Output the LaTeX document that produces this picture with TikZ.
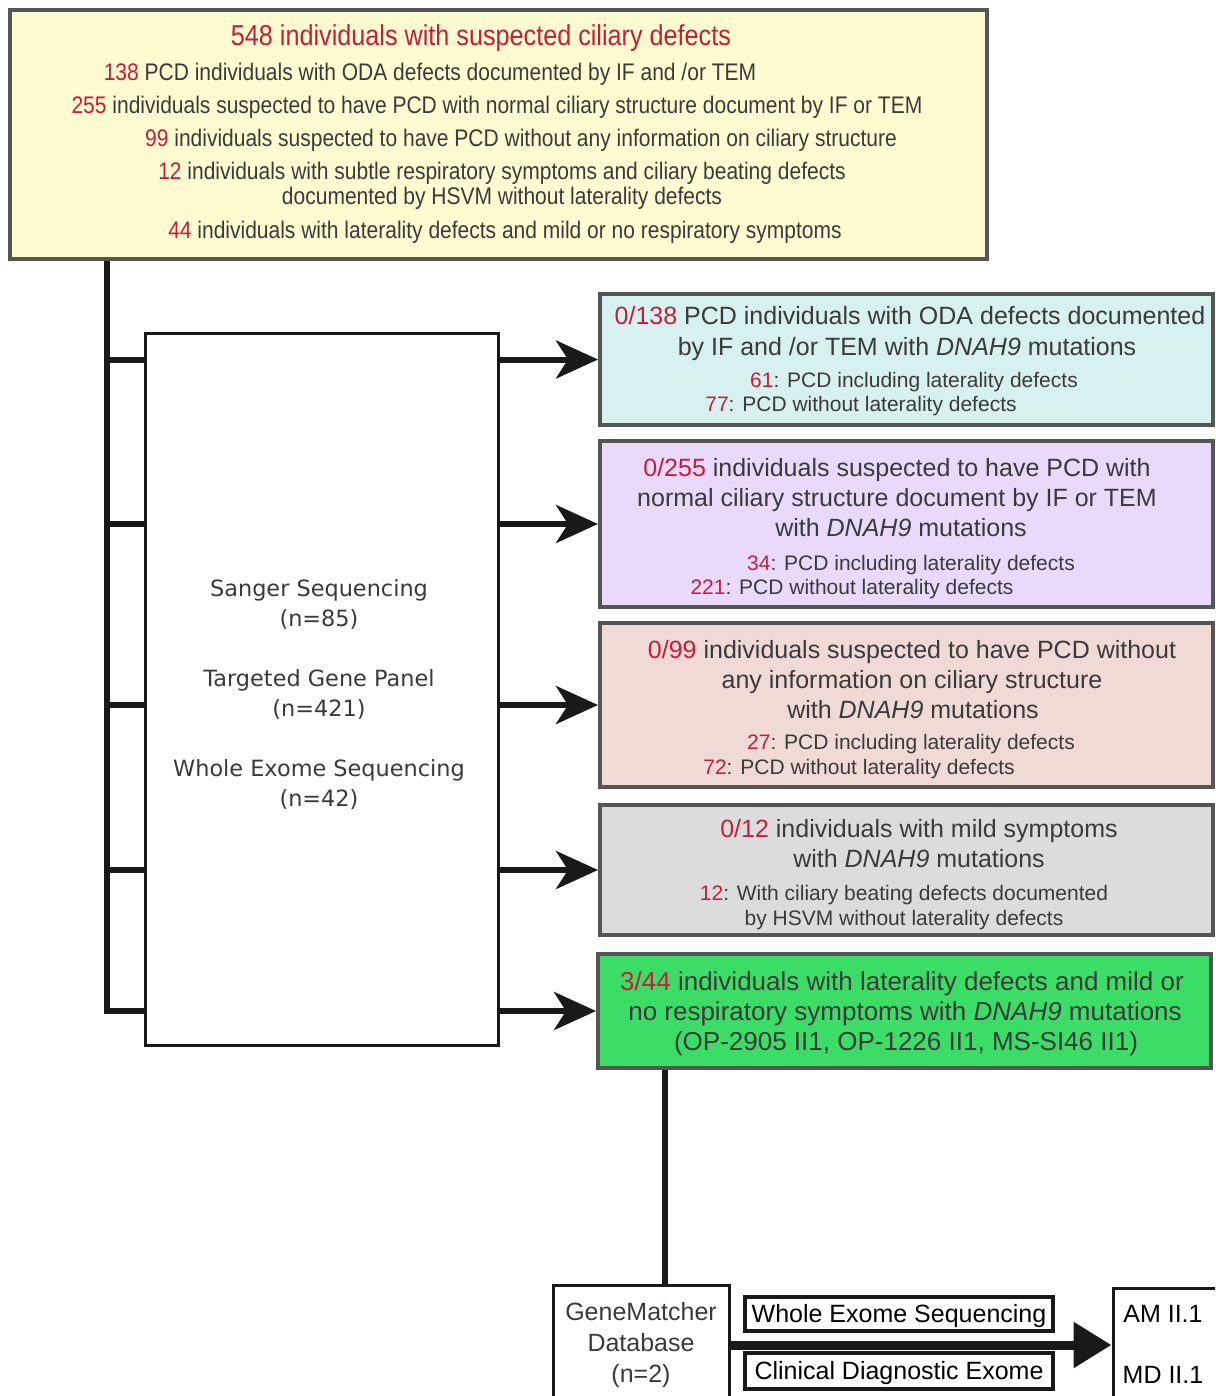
\documentclass[tikz,border=0pt]{standalone}
\usepackage{fontspec}
\setmainfont{Liberation Sans}
\newfontfamily\narrowfont[FakeStretch=0.875]{Liberation Sans}
\newfontfamily\widefont{DejaVu Sans}
\usetikzlibrary{arrows.meta,fit}

\definecolor{topfill}{HTML}{FFFBD1}
\definecolor{cyanfill}{HTML}{D6F1EF}
\definecolor{purplefill}{HTML}{E9D9FB}
\definecolor{pinkfill}{HTML}{EFDAD6}
\definecolor{greyfill}{HTML}{DCDCDC}
\definecolor{greenfill}{HTML}{3BDD66}
\definecolor{framegray}{HTML}{555555}
\definecolor{textgray}{HTML}{3A3A3A}
\definecolor{numred}{HTML}{C41E3A}
\newcommand{\redn}[1]{\textcolor{numred}{#1}}

\tikzset{
	panel/.style={draw=framegray, line width=2pt, inner sep=0pt},
	blackbox/.style={draw=black!90, line width=1.5pt, inner sep=0pt, fill=white},
	block/.style={inner sep=0pt, text=textgray, align=center},
	txt/.style={inner sep=0pt, text=textgray, text height=0.9em, text depth=0.1em},
	toptxt/.style={txt, font=\narrowfont\fontsize{12}{14}\selectfont},
	titletxt/.style={txt, text=numred, font=\narrowfont\fontsize{14.4}{17}\selectfont},
	bigtxt/.style={txt, font=\fontsize{12.5}{15}\selectfont},
	greentxt/.style={txt, font=\fontsize{13}{15}\selectfont},
	smalltxt/.style={txt, font=\fontsize{10.5}{12}\selectfont},
	trunk/.style={line width=3pt, draw=black!90},
	arr/.style={trunk, -{Stealth[length=21pt,width=19pt,inset=6pt]}},
}

\begin{document}
\begin{tikzpicture}[x=0.5pt,y=-0.5pt]
	\useasboundingbox (0,0) rectangle (1215,1396);
	\clip (0,0) rectangle (1215,1396);
	
	% boxes
	\node[panel, fill=topfill, fit={(10,10) (987,259)}] (top) {};
	\node[panel, fill=cyanfill, fit={(600,294) (1213,425)}] (cyan) {};
	\node[panel, fill=purplefill, fit={(600,441) (1213,607)}] (purple) {};
	\node[panel, fill=pinkfill, fit={(600,623) (1213,787)}] (pink) {};
	\node[panel, fill=greyfill, fit={(600,805) (1213,935)}] (grey) {};
	\node[panel, fill=greenfill, fit={(598,954) (1211,1068)}] (green) {};
	\node[blackbox, fit={(145,333) (498,1045)}] (sanger) {};
	\node[blackbox, fit={(553,1285) (729,1420)}] (genematcher) {};
	\node[blackbox, line width=2pt, fit={(745,1297) (1053,1331)}] (wes) {};
	\node[blackbox, line width=2pt, fit={(745,1353) (1053,1389)}] (cde) {};
	\node[blackbox, fit={(1113,1288) (1240,1420)}] (result) {};
	
	% top box
	\node[titletxt] (l0) at (481,38) {548 individuals with suspected ciliary defects};
	\node[toptxt] (l1) at (430,73) {\redn{138} PCD individuals with ODA defects documented by IF and /or TEM};
	\node[toptxt] (l2) at (497,106) {\redn{255} individuals suspected to have PCD with normal ciliary structure document by IF or TEM};
	\node[toptxt] (l3) at (521,139) {\redn{99} individuals suspected to have PCD without any information on ciliary structure};
	\node[toptxt] (l4) at (502,172) {\redn{12} individuals with subtle respiratory symptoms and ciliary beating defects};
	\node[toptxt] (l5) at (502,197) {documented by HSVM without laterality defects};
	\node[toptxt] (l6) at (505,231) {\redn{44} individuals with laterality defects and mild or no respiratory symptoms};
	
	% cyan
	\node[bigtxt] (c1) at (910,316) {\redn{0/138} PCD individuals with ODA defects documented};
	\node[bigtxt] (c2) at (907,347) {by IF and /or TEM with \textit{DNAH9} mutations};
	\node[smalltxt] (c3) at (914,379) {\redn{61}: PCD including laterality defects};
	\node[smalltxt] (c4) at (861,403) {\redn{77}: PCD without laterality defects};
	
	% purple
	\node[bigtxt] (p1) at (897,468) {\redn{0/255} individuals suspected to have PCD with};
	\node[bigtxt] (p2) at (897,498) {normal ciliary structure document by IF or TEM};
	\node[bigtxt] (p3) at (901,528) {with \textit{DNAH9} mutations};
	\node[smalltxt] (p4) at (911,562) {\redn{34}: PCD including laterality defects};
	\node[smalltxt] (p5) at (852,586) {\redn{221}: PCD without laterality defects};
	
	% pink
	\node[bigtxt] (k1) at (912,650) {\redn{0/99} individuals suspected to have PCD without};
	\node[bigtxt] (k2) at (912,680) {any information on ciliary structure};
	\node[bigtxt] (k3) at (913,710) {with \textit{DNAH9} mutations};
	\node[smalltxt] (k4) at (911,741) {\redn{27}: PCD including laterality defects};
	\node[smalltxt] (k5) at (859,766) {\redn{72}: PCD without laterality defects};
	
	% grey
	\node[bigtxt] (g1) at (919,829) {\redn{0/12} individuals with mild symptoms};
	\node[bigtxt] (g2) at (919,859) {with \textit{DNAH9} mutations};
	\node[smalltxt] (g3) at (904,892) {\redn{12}: With ciliary beating defects documented};
	\node[smalltxt] (g4) at (904,917) {by HSVM without laterality defects};
	
	% green
	\node[greentxt] (e1) at (902,982) {\redn{3/44} individuals with laterality defects and mild or};
	\node[greentxt] (e2) at (905,1012) {no respiratory symptoms with \textit{DNAH9} mutations};
	\node[greentxt] (e3) at (906,1042) {(OP-2905 II1, OP-1226 II1, MS-SI46 II1)};
	
	% methods
	\node[block, font=\widefont\fontsize{11.2}{15}\selectfont] (methods) at (319,694) {Sanger Sequencing\\(n=85)\\[15pt]Targeted Gene Panel\\(n=421)\\[15pt]Whole Exome Sequencing\\(n=42)};
	
	% bottom
	\node[block, font=\fontsize{12.5}{15.5}\selectfont] (gmtext) at (641,1345) {GeneMatcher\\Database\\(n=2)};
	\node[bigtxt, text=black] (westext) at (wes.center) {Whole Exome Sequencing};
	\node[bigtxt, text=black] (cdetext) at (cde.center) {Clinical Diagnostic Exome};
	\node[bigtxt, text=black] (am) at (1163,1314) {AM II.1};
	\node[bigtxt, text=black] (md) at (1163,1375) {MD II.1};
	
	% connectors
	\coordinate (trunk) at (107,0);
	\coordinate (drop) at (665,0);
	\draw[trunk] (trunk |- top.south) -- (trunk |- green.west) -- (sanger.west |- green.west);
	\draw[trunk] (trunk |- cyan.west) -- (sanger.west |- cyan.west);
	\draw[trunk] (trunk |- purple.west) -- (sanger.west |- purple.west);
	\draw[trunk] (trunk |- pink.west) -- (sanger.west |- pink.west);
	\draw[trunk] (trunk |- grey.west) -- (sanger.west |- grey.west);
	
	\draw[arr] (sanger.east |- cyan.west) -- (cyan.west);
	\draw[arr] (sanger.east |- purple.west) -- (purple.west);
	\draw[arr] (sanger.east |- pink.west) -- (pink.west);
	\draw[arr] (sanger.east |- grey.west) -- (grey.west);
	\draw[arr] (sanger.east |- green.west) -- (green.west);
	
	\draw[trunk] (drop |- green.south) -- (drop |- genematcher.north);
	\draw[line width=4.5pt, draw=black!90, -{Triangle[length=19pt,width=22pt]}] (genematcher.east |- gmtext) -- (result.west |- gmtext);
	
\end{tikzpicture}
\end{document}
